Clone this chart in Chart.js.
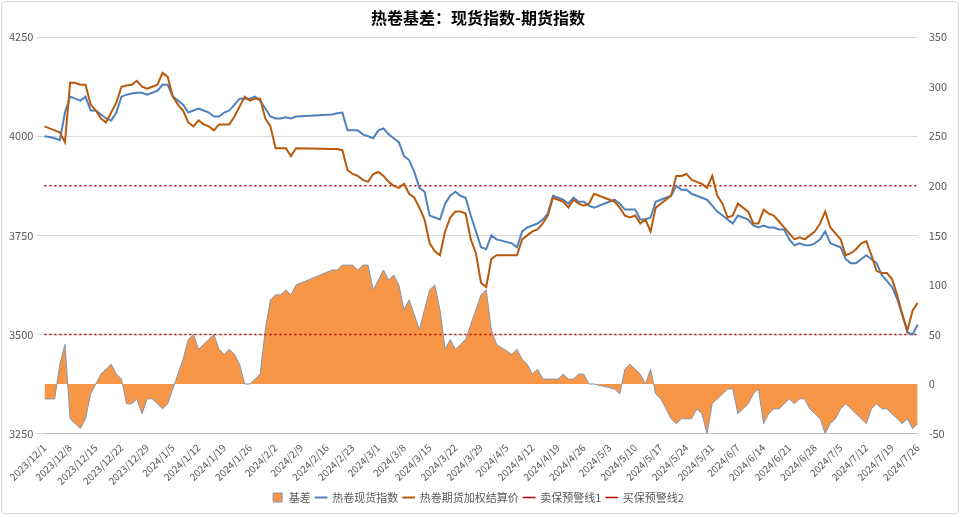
<!DOCTYPE html>
<html>
<head>
<meta charset="utf-8">
<script src="https://cdn.jsdelivr.net/npm/chart.js@4.4.1/dist/chart.umd.min.js"></script>
<style>
  html, body { margin: 0; padding: 0; background: #fff; }
  #wrap { width: 958px; height: 513px; margin: 1px; border: 1px solid #d9d9d9; border-radius: 4px; box-sizing: border-box; }
</style>
</head>
<body>
<div id="wrap"><canvas id="c"></canvas></div>
<script>
// 交易日（周一到周五），2023/12/1 - 2024/7/26
const categories = [];
for (let d = new Date(2023, 11, 1); d <= new Date(2024, 6, 26); d.setDate(d.getDate() + 1)) {
  const w = d.getDay();
  if (w === 0 || w === 6) continue;
  categories.push(d.getFullYear() + '/' + (d.getMonth() + 1) + '/' + d.getDate());
}

// 热卷现货指数
const spotIndex = [
  4000,
  3998,3995,3990,4060,4100,
  4095,4090,4100,4065,4065,
  4055,4045,4040,4060,4100,
  4105,4108,4110,4110,4105,
  4110,4115,4130,4130,4100,
  4090,4080,4060,4065,4070,
  4065,4060,4050,4050,4060,
  4065,4080,4095,4095,4095,
  4100,4090,4070,4050,4045,
  4045,4048,4045,4050,null,
  null,null,null,null,null,
  4055,4058,4060,4015,4015,
  4015,4005,4000,3995,4015,
  4020,4005,3995,3985,3950,
  3940,3910,3870,3860,3800,
  3795,3790,3830,3850,3860,
  3850,3845,3800,3760,3720,
  3715,3750,3740,null,null,
  3730,3720,3760,3770,3775,
  3780,3790,3805,3850,3845,
  3840,3830,3845,3835,3835,
  3825,3820,null,null,null,
  3840,3830,3815,3815,3815,
  3790,3790,3795,3835,3840,
  3845,3850,3875,3865,3865,
  3855,3850,3845,3840,3825,
  3810,3800,3790,3780,3800,
  null,3790,3775,3770,3775,
  3770,3770,3765,3765,3740,
  3725,3730,3725,3725,3730,
  3740,3760,3730,3725,3720,
  3690,3680,3680,3690,3700,
  3690,3680,3650,3635,3620,
  3590,3550,3505,3500,3525
];

// 热卷期货加权结算价
const futuresPrice = [
  4025,
  4020,4015,4010,3985,4135,
  4135,4130,4130,4080,4065,
  4045,4035,4060,4085,4125,
  4128,4130,4140,4125,4120,
  4125,4130,4160,4150,4100,
  4080,4065,4035,4025,4040,
  4030,4025,4015,4030,4030,
  4030,4050,4075,4100,4090,
  4095,4095,4045,4025,3970,
  3970,3970,3950,3970,null,
  null,null,null,null,null,
  3968,3968,3965,3915,3905,
  3900,3890,3885,3905,3910,
  3900,3885,3875,3870,3880,
  3855,3845,3820,3790,3730,
  3710,3700,3760,3795,3810,
  3810,3805,3740,3705,3630,
  3620,3690,3700,null,null,
  3700,3700,3740,3750,3760,
  3765,3780,3800,3845,3840,
  3835,3820,3840,3830,3825,
  3830,3855,null,null,null,
  3835,3820,3800,3795,3800,
  3780,3790,3760,3820,3830,
  3840,3850,3900,3900,3905,
  3890,3885,3880,3870,3900,
  3850,3830,3795,3800,3830,
  null,3810,3780,3780,3815,
  3805,3800,3785,3770,3755,
  3740,3745,3740,3750,3760,
  3780,3810,3770,3755,3740,
  3700,3705,3715,3730,3735,
  3700,3660,3655,3655,3640,
  3600,3550,3510,3560,3580
];

// 基差（右轴）
const basis = [
  -15,
  -15,-15,20,40,-35,
  -40,-45,-35,-10,0,
  10,15,20,10,5,
  -20,-20,-15,-30,-15,
  -15,-20,-25,-20,-5,
  10,25,45,50,35,
  40,45,50,35,30,
  35,30,20,0,0,
  5,10,55,85,90,
  90,95,90,100,null,
  null,null,null,null,null,
  115,115,120,120,120,
  115,120,120,95,105,
  115,105,110,100,75,
  85,70,55,75,95,
  100,75,35,45,35,
  40,45,60,75,90,
  95,55,40,null,null,
  30,35,25,20,10,
  15,5,5,5,5,
  10,5,5,10,10,
  0,0,null,null,null,
  -5,-10,15,20,15,
  10,0,15,-10,-15,
  -25,-35,-40,-35,-35,
  -35,-25,-30,-50,-20,
  -15,-10,-5,-5,-30,
  null,-20,-10,-5,-40,
  -30,-25,-25,-20,-15,
  -20,-15,-15,-25,-30,
  -35,-50,-40,-35,-25,
  -20,-25,-30,-35,-40,
  -25,-20,-25,-25,-30,
  -35,-40,-35,-45,-40
];

const sellWarn = 200;
const buyWarn = 50;

const font = "'Microsoft YaHei', 'Noto Sans CJK SC', sans-serif";
Chart.defaults.font.family = font;
Chart.defaults.color = '#595959';

new Chart(document.getElementById('c'), {
  type: 'line',
  data: {
    labels: categories,
    datasets: [
      { label: '基差', data: basis, yAxisID: 'y1', fill: 'origin', backgroundColor: '#f79646',
        borderColor: '#8497b0', borderWidth: 1, pointRadius: 0, spanGaps: true, tension: 0,
        pointStyle: 'rect', order: 5 },
      { label: '热卷现货指数', data: spotIndex, yAxisID: 'y', borderColor: '#4f81bd', backgroundColor: '#4f81bd',
        borderWidth: 2, pointRadius: 0, spanGaps: true, pointStyle: 'line', order: 2 },
      { label: '热卷期货加权结算价', data: futuresPrice, yAxisID: 'y', borderColor: '#b85a0d', backgroundColor: '#b85a0d',
        borderWidth: 2, pointRadius: 0, spanGaps: true, pointStyle: 'line', order: 1 },
      { label: '卖保预警线1', data: categories.map(() => sellWarn), yAxisID: 'y1', borderColor: '#c00000',
        backgroundColor: '#7f7f7f', borderWidth: 1.5, borderDash: [2, 3], pointRadius: 0, pointStyle: 'line', order: 3 },
      { label: '买保预警线2', data: categories.map(() => buyWarn), yAxisID: 'y1', borderColor: '#c00000',
        backgroundColor: '#c00000', borderWidth: 1.5, borderDash: [2, 3], pointRadius: 0, pointStyle: 'line', order: 4 }
    ]
  },
  options: {
    animation: false,
    responsive: true,
    maintainAspectRatio: false,
    layout: { padding: { left: 4, right: 8, top: 2, bottom: 0 } },
    plugins: {
      title: { display: true, text: '热卷基差：现货指数-期货指数', color: '#000',
        font: { size: 16, weight: 'bold' }, padding: { top: 4, bottom: 10 } },
      legend: { position: 'bottom', labels: { usePointStyle: true, boxWidth: 30, boxHeight: 9,
        font: { size: 11 }, padding: 5, sort: (a, b) => a.datasetIndex - b.datasetIndex } },
      tooltip: { enabled: false }
    },
    scales: {
      x: {
        grid: { display: false },
        border: { color: '#bfbfbf' },
        ticks: { autoSkip: false, maxRotation: 45, minRotation: 45, font: { size: 10 }, padding: 0,
          callback: (v, i) => i % 5 === 0 ? categories[i] : '' }
      },
      y: {
        position: 'left', min: 3250, max: 4250,
        ticks: { stepSize: 250, font: { size: 11 }, callback: v => String(v) },
        grid: { color: '#d9d9d9' }, border: { display: false }
      },
      y1: {
        position: 'right', min: -50, max: 350,
        ticks: { stepSize: 50, font: { size: 11 } },
        grid: { display: false }, border: { display: false }
      }
    }
  }
});
</script>
</body>
</html>
